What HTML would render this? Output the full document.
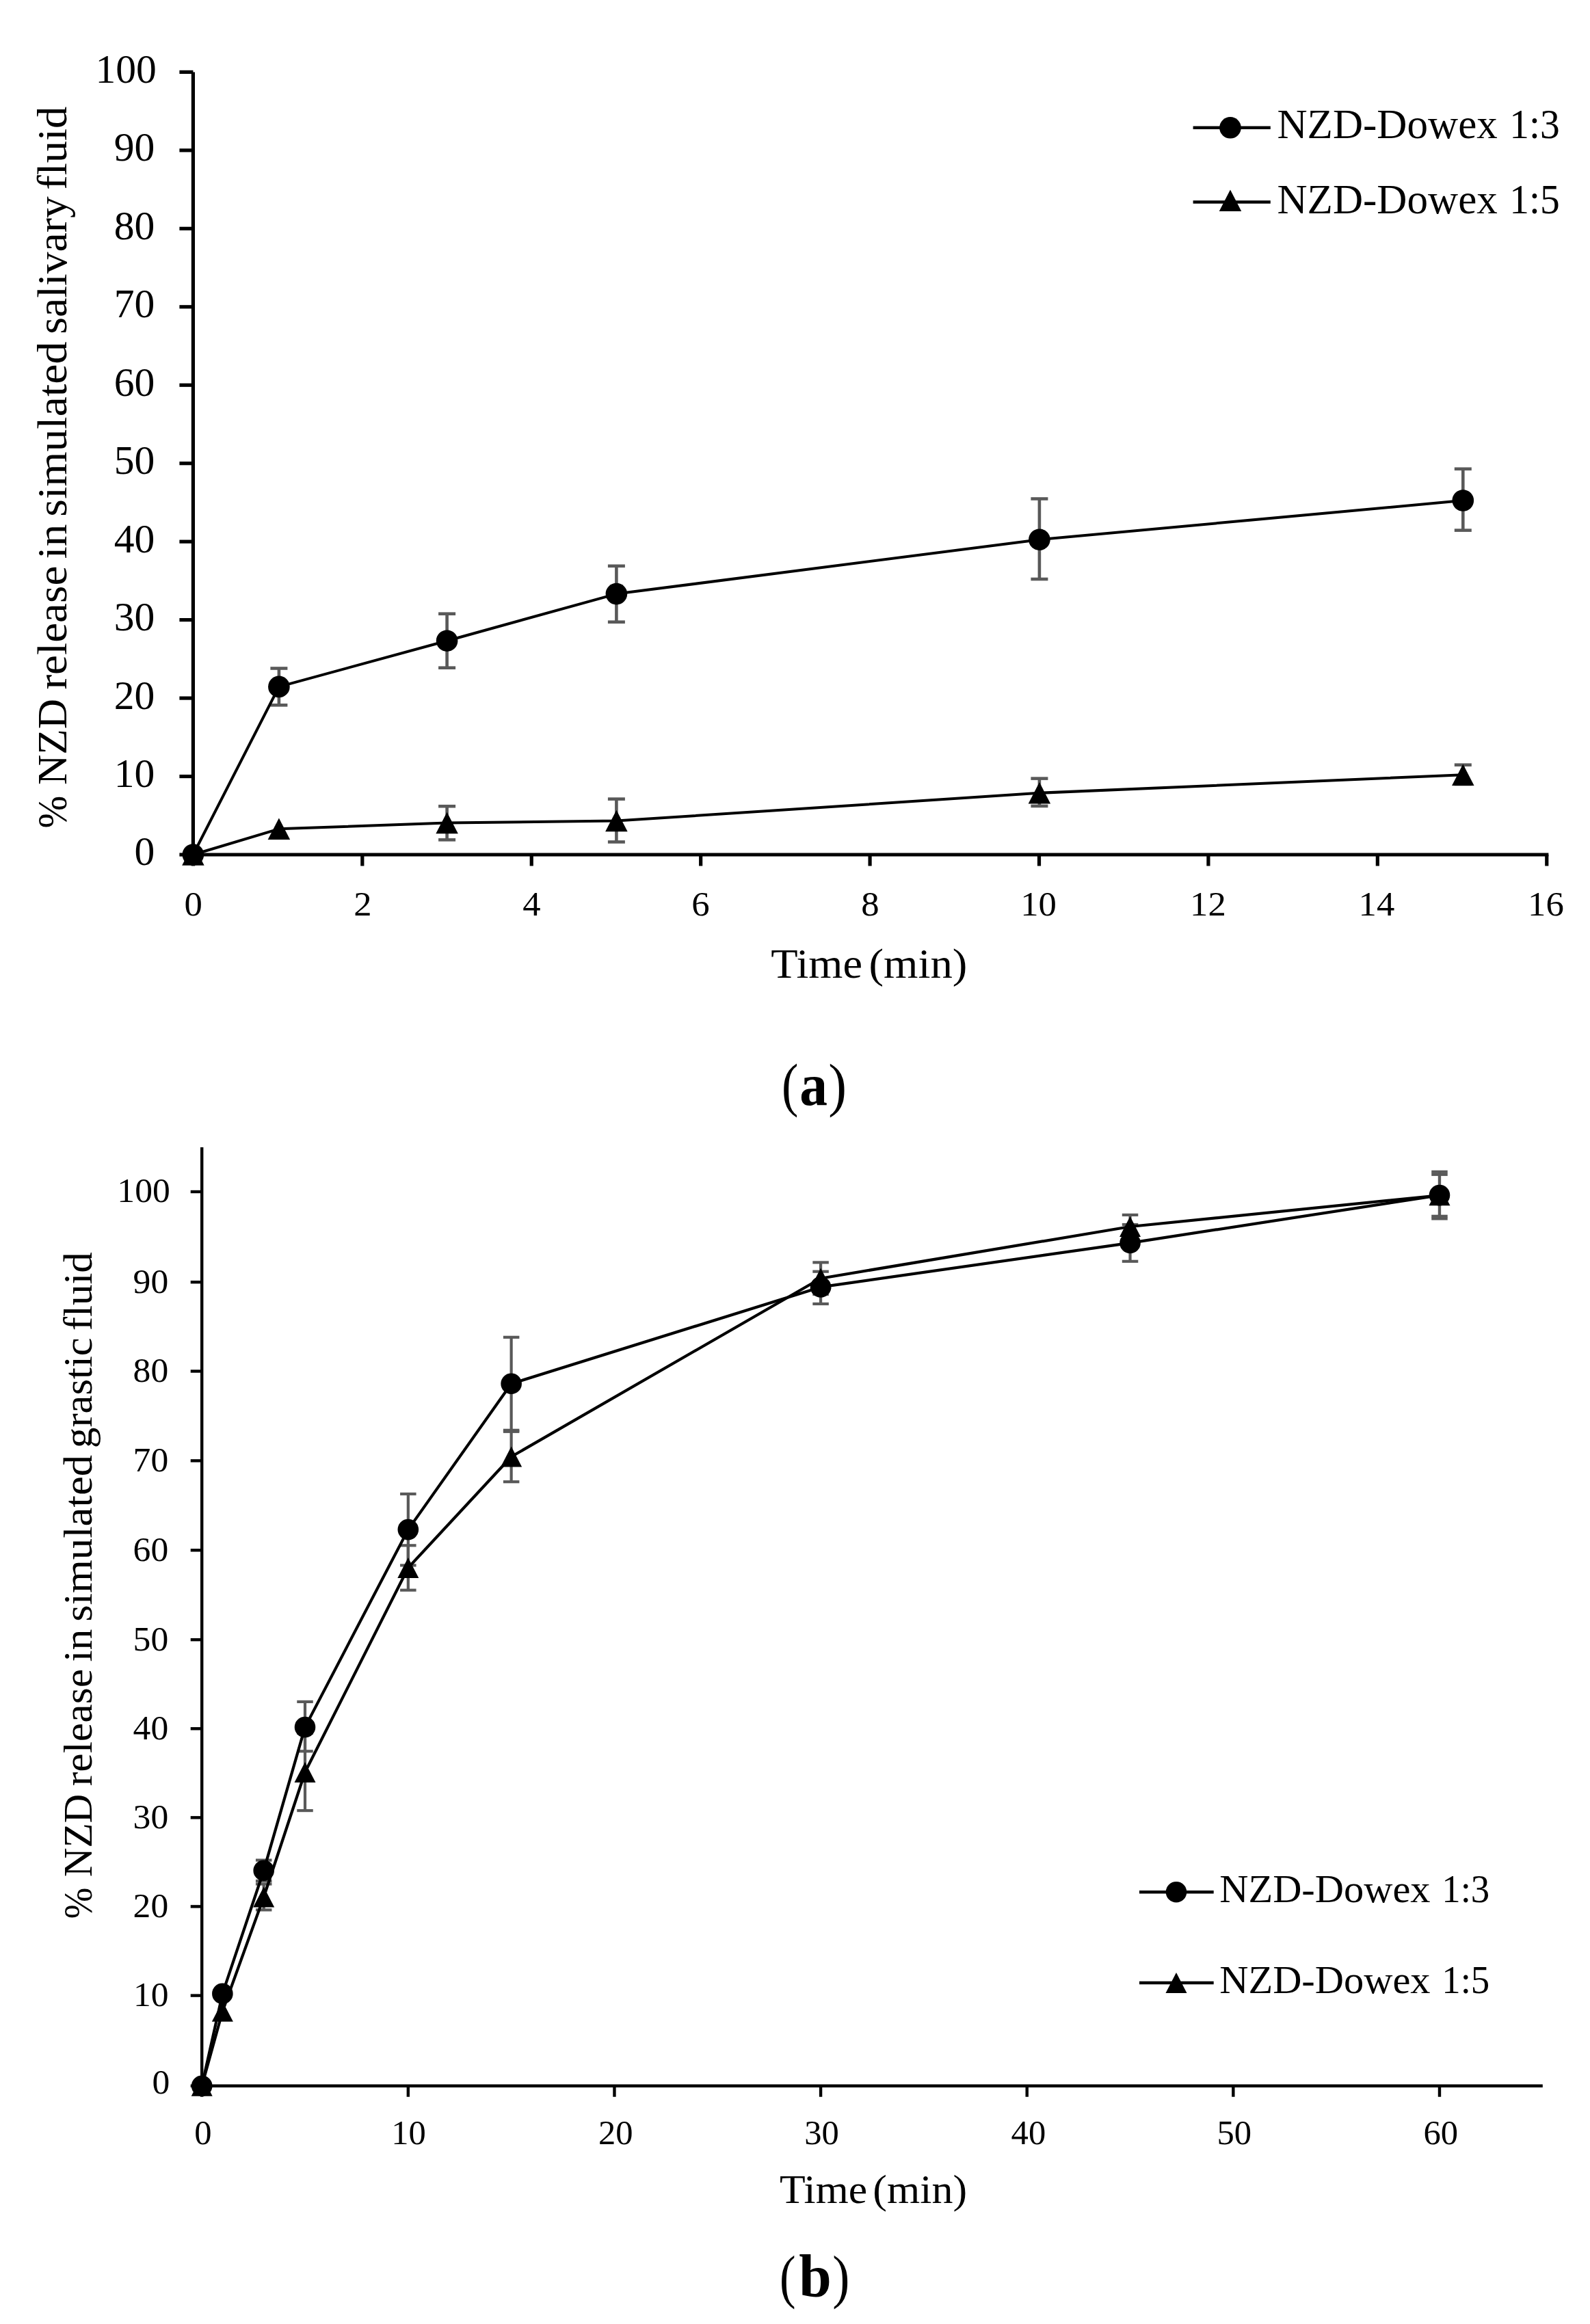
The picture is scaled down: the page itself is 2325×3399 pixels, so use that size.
<!DOCTYPE html>
<html lang="en"><head><meta charset="utf-8"><title>NZD release profiles</title>
<style>
html,body{margin:0;padding:0;background:#fff}
svg{display:block}
text{font-family:"Liberation Serif", serif;white-space:pre}
</style></head>
<body>
<svg width="2325" height="3399" viewBox="0 0 2325 3399">
<rect width="2325" height="3399" fill="#fff"/>
<line x1="282.40" y1="105.40" x2="282.40" y2="1252.60" stroke="#000" stroke-width="5.2" stroke-linecap="butt"/>
<line x1="279.80" y1="1250.00" x2="2264.36" y2="1250.00" stroke="#000" stroke-width="5.2" stroke-linecap="butt"/>
<line x1="262.40" y1="1250.00" x2="282.40" y2="1250.00" stroke="#000" stroke-width="5.2" stroke-linecap="butt"/>
<line x1="262.40" y1="1135.54" x2="282.40" y2="1135.54" stroke="#000" stroke-width="5.2" stroke-linecap="butt"/>
<line x1="262.40" y1="1021.08" x2="282.40" y2="1021.08" stroke="#000" stroke-width="5.2" stroke-linecap="butt"/>
<line x1="262.40" y1="906.62" x2="282.40" y2="906.62" stroke="#000" stroke-width="5.2" stroke-linecap="butt"/>
<line x1="262.40" y1="792.16" x2="282.40" y2="792.16" stroke="#000" stroke-width="5.2" stroke-linecap="butt"/>
<line x1="262.40" y1="677.70" x2="282.40" y2="677.70" stroke="#000" stroke-width="5.2" stroke-linecap="butt"/>
<line x1="262.40" y1="563.24" x2="282.40" y2="563.24" stroke="#000" stroke-width="5.2" stroke-linecap="butt"/>
<line x1="262.40" y1="448.78" x2="282.40" y2="448.78" stroke="#000" stroke-width="5.2" stroke-linecap="butt"/>
<line x1="262.40" y1="334.32" x2="282.40" y2="334.32" stroke="#000" stroke-width="5.2" stroke-linecap="butt"/>
<line x1="262.40" y1="219.86" x2="282.40" y2="219.86" stroke="#000" stroke-width="5.2" stroke-linecap="butt"/>
<line x1="262.40" y1="105.40" x2="282.40" y2="105.40" stroke="#000" stroke-width="5.2" stroke-linecap="butt"/>
<line x1="282.40" y1="1250.00" x2="282.40" y2="1266.50" stroke="#000" stroke-width="5.2" stroke-linecap="butt"/>
<line x1="529.82" y1="1250.00" x2="529.82" y2="1266.50" stroke="#000" stroke-width="5.2" stroke-linecap="butt"/>
<line x1="777.24" y1="1250.00" x2="777.24" y2="1266.50" stroke="#000" stroke-width="5.2" stroke-linecap="butt"/>
<line x1="1024.66" y1="1250.00" x2="1024.66" y2="1266.50" stroke="#000" stroke-width="5.2" stroke-linecap="butt"/>
<line x1="1272.08" y1="1250.00" x2="1272.08" y2="1266.50" stroke="#000" stroke-width="5.2" stroke-linecap="butt"/>
<line x1="1519.50" y1="1250.00" x2="1519.50" y2="1266.50" stroke="#000" stroke-width="5.2" stroke-linecap="butt"/>
<line x1="1766.92" y1="1250.00" x2="1766.92" y2="1266.50" stroke="#000" stroke-width="5.2" stroke-linecap="butt"/>
<line x1="2014.34" y1="1250.00" x2="2014.34" y2="1266.50" stroke="#000" stroke-width="5.2" stroke-linecap="butt"/>
<line x1="2261.76" y1="1250.00" x2="2261.76" y2="1266.50" stroke="#000" stroke-width="5.2" stroke-linecap="butt"/>
<line x1="407.90" y1="977.50" x2="407.90" y2="1031.30" stroke="#595959" stroke-width="4.6" stroke-linecap="butt"/>
<line x1="395.40" y1="977.50" x2="420.40" y2="977.50" stroke="#595959" stroke-width="4.6" stroke-linecap="butt"/>
<line x1="395.40" y1="1031.30" x2="420.40" y2="1031.30" stroke="#595959" stroke-width="4.6" stroke-linecap="butt"/>
<line x1="653.60" y1="897.70" x2="653.60" y2="976.70" stroke="#595959" stroke-width="4.6" stroke-linecap="butt"/>
<line x1="641.10" y1="897.70" x2="666.10" y2="897.70" stroke="#595959" stroke-width="4.6" stroke-linecap="butt"/>
<line x1="641.10" y1="976.70" x2="666.10" y2="976.70" stroke="#595959" stroke-width="4.6" stroke-linecap="butt"/>
<line x1="901.40" y1="827.80" x2="901.40" y2="909.70" stroke="#595959" stroke-width="4.6" stroke-linecap="butt"/>
<line x1="888.90" y1="827.80" x2="913.90" y2="827.80" stroke="#595959" stroke-width="4.6" stroke-linecap="butt"/>
<line x1="888.90" y1="909.70" x2="913.90" y2="909.70" stroke="#595959" stroke-width="4.6" stroke-linecap="butt"/>
<line x1="1519.90" y1="729.50" x2="1519.90" y2="847.00" stroke="#595959" stroke-width="4.6" stroke-linecap="butt"/>
<line x1="1507.40" y1="729.50" x2="1532.40" y2="729.50" stroke="#595959" stroke-width="4.6" stroke-linecap="butt"/>
<line x1="1507.40" y1="847.00" x2="1532.40" y2="847.00" stroke="#595959" stroke-width="4.6" stroke-linecap="butt"/>
<line x1="2139.30" y1="685.80" x2="2139.30" y2="775.60" stroke="#595959" stroke-width="4.6" stroke-linecap="butt"/>
<line x1="2126.80" y1="685.80" x2="2151.80" y2="685.80" stroke="#595959" stroke-width="4.6" stroke-linecap="butt"/>
<line x1="2126.80" y1="775.60" x2="2151.80" y2="775.60" stroke="#595959" stroke-width="4.6" stroke-linecap="butt"/>
<line x1="653.60" y1="1179.20" x2="653.60" y2="1228.30" stroke="#595959" stroke-width="4.6" stroke-linecap="butt"/>
<line x1="641.10" y1="1179.20" x2="666.10" y2="1179.20" stroke="#595959" stroke-width="4.6" stroke-linecap="butt"/>
<line x1="641.10" y1="1228.30" x2="666.10" y2="1228.30" stroke="#595959" stroke-width="4.6" stroke-linecap="butt"/>
<line x1="901.40" y1="1168.60" x2="901.40" y2="1231.40" stroke="#595959" stroke-width="4.6" stroke-linecap="butt"/>
<line x1="888.90" y1="1168.60" x2="913.90" y2="1168.60" stroke="#595959" stroke-width="4.6" stroke-linecap="butt"/>
<line x1="888.90" y1="1231.40" x2="913.90" y2="1231.40" stroke="#595959" stroke-width="4.6" stroke-linecap="butt"/>
<line x1="1519.90" y1="1138.60" x2="1519.90" y2="1178.90" stroke="#595959" stroke-width="4.6" stroke-linecap="butt"/>
<line x1="1507.40" y1="1138.60" x2="1532.40" y2="1138.60" stroke="#595959" stroke-width="4.6" stroke-linecap="butt"/>
<line x1="1507.40" y1="1178.90" x2="1532.40" y2="1178.90" stroke="#595959" stroke-width="4.6" stroke-linecap="butt"/>
<line x1="2139.30" y1="1118.70" x2="2139.30" y2="1147.00" stroke="#595959" stroke-width="4.6" stroke-linecap="butt"/>
<line x1="2126.80" y1="1118.70" x2="2151.80" y2="1118.70" stroke="#595959" stroke-width="4.6" stroke-linecap="butt"/>
<line x1="2126.80" y1="1147.00" x2="2151.80" y2="1147.00" stroke="#595959" stroke-width="4.6" stroke-linecap="butt"/>
<polyline fill="none" stroke="#000" stroke-width="4.0" stroke-linejoin="round" points="282.40,1250.00 407.90,1004.40 653.60,937.20 901.40,868.60 1519.90,789.20 2139.30,732.00"/>
<polyline fill="none" stroke="#000" stroke-width="4.0" stroke-linejoin="round" points="282.40,1250.00 407.90,1212.30 653.60,1203.60 901.40,1200.60 1519.90,1159.80 2139.30,1133.20"/>
<circle cx="282.40" cy="1250.00" r="15.8" fill="#000"/>
<circle cx="407.90" cy="1004.40" r="15.8" fill="#000"/>
<circle cx="653.60" cy="937.20" r="15.8" fill="#000"/>
<circle cx="901.40" cy="868.60" r="15.8" fill="#000"/>
<circle cx="1519.90" cy="789.20" r="15.8" fill="#000"/>
<circle cx="2139.30" cy="732.00" r="15.8" fill="#000"/>
<polygon fill="#000" points="282.40,1234.25 298.65,1265.75 266.15,1265.75"/>
<polygon fill="#000" points="407.90,1196.55 424.15,1228.05 391.65,1228.05"/>
<polygon fill="#000" points="653.60,1187.85 669.85,1219.35 637.35,1219.35"/>
<polygon fill="#000" points="901.40,1184.85 917.65,1216.35 885.15,1216.35"/>
<polygon fill="#000" points="1519.90,1144.05 1536.15,1175.55 1503.65,1175.55"/>
<polygon fill="#000" points="2139.30,1117.45 2155.55,1148.95 2123.05,1148.95"/>
<line x1="1744.60" y1="186.80" x2="1857.80" y2="186.80" stroke="#000" stroke-width="4.6" stroke-linecap="butt"/>
<circle cx="1799.00" cy="186.80" r="15.8" fill="#000"/>
<line x1="1744.60" y1="295.50" x2="1857.80" y2="295.50" stroke="#000" stroke-width="4.6" stroke-linecap="butt"/>
<polygon fill="#000" points="1799.00,277.45 1815.25,308.95 1782.75,308.95"/>
<line x1="295.20" y1="1677.90" x2="295.20" y2="3052.95" stroke="#000" stroke-width="4.4" stroke-linecap="butt"/>
<line x1="293.00" y1="3050.75" x2="2255.80" y2="3050.75" stroke="#000" stroke-width="4.4" stroke-linecap="butt"/>
<line x1="278.70" y1="3050.75" x2="295.20" y2="3050.75" stroke="#000" stroke-width="4.4" stroke-linecap="butt"/>
<line x1="278.70" y1="2918.60" x2="295.20" y2="2918.60" stroke="#000" stroke-width="4.4" stroke-linecap="butt"/>
<line x1="278.70" y1="2788.40" x2="295.20" y2="2788.40" stroke="#000" stroke-width="4.4" stroke-linecap="butt"/>
<line x1="278.70" y1="2658.33" x2="295.20" y2="2658.33" stroke="#000" stroke-width="4.4" stroke-linecap="butt"/>
<line x1="278.70" y1="2528.27" x2="295.20" y2="2528.27" stroke="#000" stroke-width="4.4" stroke-linecap="butt"/>
<line x1="278.70" y1="2398.20" x2="295.20" y2="2398.20" stroke="#000" stroke-width="4.4" stroke-linecap="butt"/>
<line x1="278.70" y1="2267.30" x2="295.20" y2="2267.30" stroke="#000" stroke-width="4.4" stroke-linecap="butt"/>
<line x1="278.70" y1="2136.40" x2="295.20" y2="2136.40" stroke="#000" stroke-width="4.4" stroke-linecap="butt"/>
<line x1="278.70" y1="2005.50" x2="295.20" y2="2005.50" stroke="#000" stroke-width="4.4" stroke-linecap="butt"/>
<line x1="278.70" y1="1875.20" x2="295.20" y2="1875.20" stroke="#000" stroke-width="4.4" stroke-linecap="butt"/>
<line x1="278.70" y1="1743.00" x2="295.20" y2="1743.00" stroke="#000" stroke-width="4.4" stroke-linecap="butt"/>
<line x1="295.20" y1="3050.75" x2="295.20" y2="3066.75" stroke="#000" stroke-width="4.4" stroke-linecap="butt"/>
<line x1="596.83" y1="3050.75" x2="596.83" y2="3066.75" stroke="#000" stroke-width="4.4" stroke-linecap="butt"/>
<line x1="898.46" y1="3050.75" x2="898.46" y2="3066.75" stroke="#000" stroke-width="4.4" stroke-linecap="butt"/>
<line x1="1200.09" y1="3050.75" x2="1200.09" y2="3066.75" stroke="#000" stroke-width="4.4" stroke-linecap="butt"/>
<line x1="1501.72" y1="3050.75" x2="1501.72" y2="3066.75" stroke="#000" stroke-width="4.4" stroke-linecap="butt"/>
<line x1="1803.35" y1="3050.75" x2="1803.35" y2="3066.75" stroke="#000" stroke-width="4.4" stroke-linecap="butt"/>
<line x1="2104.98" y1="3050.75" x2="2104.98" y2="3066.75" stroke="#000" stroke-width="4.4" stroke-linecap="butt"/>
<line x1="385.69" y1="2720.60" x2="385.69" y2="2751.00" stroke="#595959" stroke-width="4.2" stroke-linecap="butt"/>
<line x1="373.94" y1="2720.60" x2="397.44" y2="2720.60" stroke="#595959" stroke-width="4.2" stroke-linecap="butt"/>
<line x1="373.94" y1="2751.00" x2="397.44" y2="2751.00" stroke="#595959" stroke-width="4.2" stroke-linecap="butt"/>
<line x1="446.01" y1="2488.90" x2="446.01" y2="2561.30" stroke="#595959" stroke-width="4.2" stroke-linecap="butt"/>
<line x1="434.26" y1="2488.90" x2="457.76" y2="2488.90" stroke="#595959" stroke-width="4.2" stroke-linecap="butt"/>
<line x1="434.26" y1="2561.30" x2="457.76" y2="2561.30" stroke="#595959" stroke-width="4.2" stroke-linecap="butt"/>
<line x1="596.83" y1="2185.00" x2="596.83" y2="2289.40" stroke="#595959" stroke-width="4.2" stroke-linecap="butt"/>
<line x1="585.08" y1="2185.00" x2="608.58" y2="2185.00" stroke="#595959" stroke-width="4.2" stroke-linecap="butt"/>
<line x1="585.08" y1="2289.40" x2="608.58" y2="2289.40" stroke="#595959" stroke-width="4.2" stroke-linecap="butt"/>
<line x1="747.64" y1="1955.80" x2="747.64" y2="2091.80" stroke="#595959" stroke-width="4.2" stroke-linecap="butt"/>
<line x1="735.89" y1="1955.80" x2="759.39" y2="1955.80" stroke="#595959" stroke-width="4.2" stroke-linecap="butt"/>
<line x1="735.89" y1="2091.80" x2="759.39" y2="2091.80" stroke="#595959" stroke-width="4.2" stroke-linecap="butt"/>
<line x1="1200.09" y1="1859.70" x2="1200.09" y2="1907.00" stroke="#595959" stroke-width="4.2" stroke-linecap="butt"/>
<line x1="1188.34" y1="1859.70" x2="1211.84" y2="1859.70" stroke="#595959" stroke-width="4.2" stroke-linecap="butt"/>
<line x1="1188.34" y1="1907.00" x2="1211.84" y2="1907.00" stroke="#595959" stroke-width="4.2" stroke-linecap="butt"/>
<line x1="1652.54" y1="1791.00" x2="1652.54" y2="1844.80" stroke="#595959" stroke-width="4.2" stroke-linecap="butt"/>
<line x1="1640.79" y1="1791.00" x2="1664.29" y2="1791.00" stroke="#595959" stroke-width="4.2" stroke-linecap="butt"/>
<line x1="1640.79" y1="1844.80" x2="1664.29" y2="1844.80" stroke="#595959" stroke-width="4.2" stroke-linecap="butt"/>
<line x1="2104.98" y1="1713.80" x2="2104.98" y2="1782.40" stroke="#595959" stroke-width="4.2" stroke-linecap="butt"/>
<line x1="2093.23" y1="1713.80" x2="2116.73" y2="1713.80" stroke="#595959" stroke-width="4.2" stroke-linecap="butt"/>
<line x1="2093.23" y1="1782.40" x2="2116.73" y2="1782.40" stroke="#595959" stroke-width="4.2" stroke-linecap="butt"/>
<line x1="385.69" y1="2755.50" x2="385.69" y2="2793.40" stroke="#595959" stroke-width="4.2" stroke-linecap="butt"/>
<line x1="373.94" y1="2755.50" x2="397.44" y2="2755.50" stroke="#595959" stroke-width="4.2" stroke-linecap="butt"/>
<line x1="373.94" y1="2793.40" x2="397.44" y2="2793.40" stroke="#595959" stroke-width="4.2" stroke-linecap="butt"/>
<line x1="446.01" y1="2535.00" x2="446.01" y2="2648.10" stroke="#595959" stroke-width="4.2" stroke-linecap="butt"/>
<line x1="434.26" y1="2535.00" x2="457.76" y2="2535.00" stroke="#595959" stroke-width="4.2" stroke-linecap="butt"/>
<line x1="434.26" y1="2648.10" x2="457.76" y2="2648.10" stroke="#595959" stroke-width="4.2" stroke-linecap="butt"/>
<line x1="596.83" y1="2260.30" x2="596.83" y2="2325.70" stroke="#595959" stroke-width="4.2" stroke-linecap="butt"/>
<line x1="585.08" y1="2260.30" x2="608.58" y2="2260.30" stroke="#595959" stroke-width="4.2" stroke-linecap="butt"/>
<line x1="585.08" y1="2325.70" x2="608.58" y2="2325.70" stroke="#595959" stroke-width="4.2" stroke-linecap="butt"/>
<line x1="747.64" y1="2093.80" x2="747.64" y2="2167.20" stroke="#595959" stroke-width="4.2" stroke-linecap="butt"/>
<line x1="735.89" y1="2093.80" x2="759.39" y2="2093.80" stroke="#595959" stroke-width="4.2" stroke-linecap="butt"/>
<line x1="735.89" y1="2167.20" x2="759.39" y2="2167.20" stroke="#595959" stroke-width="4.2" stroke-linecap="butt"/>
<line x1="1200.09" y1="1846.40" x2="1200.09" y2="1893.00" stroke="#595959" stroke-width="4.2" stroke-linecap="butt"/>
<line x1="1188.34" y1="1846.40" x2="1211.84" y2="1846.40" stroke="#595959" stroke-width="4.2" stroke-linecap="butt"/>
<line x1="1188.34" y1="1893.00" x2="1211.84" y2="1893.00" stroke="#595959" stroke-width="4.2" stroke-linecap="butt"/>
<line x1="1652.54" y1="1776.90" x2="1652.54" y2="1811.00" stroke="#595959" stroke-width="4.2" stroke-linecap="butt"/>
<line x1="1640.79" y1="1776.90" x2="1664.29" y2="1776.90" stroke="#595959" stroke-width="4.2" stroke-linecap="butt"/>
<line x1="1640.79" y1="1811.00" x2="1664.29" y2="1811.00" stroke="#595959" stroke-width="4.2" stroke-linecap="butt"/>
<line x1="2104.98" y1="1717.80" x2="2104.98" y2="1778.80" stroke="#595959" stroke-width="4.2" stroke-linecap="butt"/>
<line x1="2093.23" y1="1717.80" x2="2116.73" y2="1717.80" stroke="#595959" stroke-width="4.2" stroke-linecap="butt"/>
<line x1="2093.23" y1="1778.80" x2="2116.73" y2="1778.80" stroke="#595959" stroke-width="4.2" stroke-linecap="butt"/>
<polyline fill="none" stroke="#000" stroke-width="4.2" stroke-linejoin="round" points="295.20,3050.75 325.36,2915.90 385.69,2735.70 446.01,2526.10 596.83,2237.10 747.64,2023.80 1200.09,1882.40 1652.54,1817.90 2104.98,1748.10"/>
<polyline fill="none" stroke="#000" stroke-width="4.2" stroke-linejoin="round" points="295.20,3050.75 325.36,2941.80 385.69,2774.50 446.01,2592.00 596.83,2293.00 747.64,2130.50 1200.09,1869.70 1652.54,1794.00 2104.98,1748.30"/>
<circle cx="295.20" cy="3050.75" r="15.3" fill="#000"/>
<circle cx="325.36" cy="2915.90" r="15.3" fill="#000"/>
<circle cx="385.69" cy="2735.70" r="15.3" fill="#000"/>
<circle cx="446.01" cy="2526.10" r="15.3" fill="#000"/>
<circle cx="596.83" cy="2237.10" r="15.3" fill="#000"/>
<circle cx="747.64" cy="2023.80" r="15.3" fill="#000"/>
<circle cx="1200.09" cy="1882.40" r="15.3" fill="#000"/>
<circle cx="1652.54" cy="1817.90" r="15.3" fill="#000"/>
<circle cx="2104.98" cy="1748.10" r="15.3" fill="#000"/>
<polygon fill="#000" points="295.20,3035.75 310.70,3065.75 279.70,3065.75"/>
<polygon fill="#000" points="325.36,2926.80 340.86,2956.80 309.86,2956.80"/>
<polygon fill="#000" points="385.69,2759.50 401.19,2789.50 370.19,2789.50"/>
<polygon fill="#000" points="446.01,2577.00 461.51,2607.00 430.51,2607.00"/>
<polygon fill="#000" points="596.83,2278.00 612.33,2308.00 581.33,2308.00"/>
<polygon fill="#000" points="747.64,2115.50 763.14,2145.50 732.14,2145.50"/>
<polygon fill="#000" points="1200.09,1854.70 1215.59,1884.70 1184.59,1884.70"/>
<polygon fill="#000" points="1652.54,1779.00 1668.04,1809.00 1637.04,1809.00"/>
<polygon fill="#000" points="2104.98,1733.30 2120.48,1763.30 2089.48,1763.30"/>
<line x1="1666.00" y1="2767.20" x2="1774.70" y2="2767.20" stroke="#000" stroke-width="4.6000000000000005" stroke-linecap="butt"/>
<circle cx="1720.00" cy="2767.20" r="15.3" fill="#000"/>
<line x1="1666.00" y1="2900.00" x2="1774.70" y2="2900.00" stroke="#000" stroke-width="4.6000000000000005" stroke-linecap="butt"/>
<polygon fill="#000" points="1720.00,2885.00 1735.50,2915.00 1704.50,2915.00"/>
<text transform="translate(1867.45,202.30) scale(1.0026,1)" font-size="60.95" fill="#000">NZD-Dowex</text>
<text transform="translate(2207.31,202.30) scale(0.9436,1)" font-size="60.95" fill="#000">1:3</text>
<text transform="translate(1867.45,311.70) scale(1.0026,1)" font-size="60.95" fill="#000">NZD-Dowex</text>
<text transform="translate(2207.31,311.70) scale(0.9436,1)" font-size="60.95" fill="#000">1:5</text>
<text transform="translate(196.55,1264.67) scale(1.0000,1)" font-size="59.64" fill="#000">0</text>
<text transform="translate(166.73,1151.01) scale(1.0000,1)" font-size="59.64" fill="#000">10</text>
<text transform="translate(166.73,1036.55) scale(1.0000,1)" font-size="59.64" fill="#000">20</text>
<text transform="translate(166.73,922.09) scale(1.0000,1)" font-size="59.64" fill="#000">30</text>
<text transform="translate(166.73,807.63) scale(1.0000,1)" font-size="59.64" fill="#000">40</text>
<text transform="translate(166.73,693.17) scale(1.0000,1)" font-size="59.64" fill="#000">50</text>
<text transform="translate(166.73,578.71) scale(1.0000,1)" font-size="59.64" fill="#000">60</text>
<text transform="translate(166.73,464.25) scale(1.0000,1)" font-size="59.64" fill="#000">70</text>
<text transform="translate(166.73,349.79) scale(1.0000,1)" font-size="59.64" fill="#000">80</text>
<text transform="translate(166.73,235.33) scale(1.0000,1)" font-size="59.64" fill="#000">90</text>
<text transform="translate(139.41,120.87) scale(1.0000,1)" font-size="59.64" fill="#000">100</text>
<text transform="translate(269.52,1339.20) scale(1.0300,1)" font-size="51.20" fill="#000">0</text>
<text transform="translate(517.35,1339.20) scale(1.0300,1)" font-size="51.20" fill="#000">2</text>
<text transform="translate(764.36,1339.20) scale(1.0300,1)" font-size="51.20" fill="#000">4</text>
<text transform="translate(1011.36,1339.20) scale(1.0300,1)" font-size="51.20" fill="#000">6</text>
<text transform="translate(1259.20,1339.20) scale(1.0300,1)" font-size="51.20" fill="#000">8</text>
<text transform="translate(1492.20,1339.20) scale(1.0300,1)" font-size="51.20" fill="#000">10</text>
<text transform="translate(1740.03,1339.20) scale(1.0300,1)" font-size="51.20" fill="#000">12</text>
<text transform="translate(1986.62,1339.20) scale(1.0300,1)" font-size="51.20" fill="#000">14</text>
<text transform="translate(2234.04,1339.20) scale(1.0300,1)" font-size="51.20" fill="#000">16</text>
<text transform="translate(1127.29,1429.80) scale(1.0679,1)" font-size="60.34" fill="#000">Time</text>
<text transform="translate(1270.47,1429.80) scale(1.0739,1)" font-size="60.34" fill="#000">(min)</text>
<text transform="translate(96.90,1211.59) rotate(-90) scale(0.9294,1)" font-size="61.56" fill="#000">%</text>
<text transform="translate(96.90,1147.96) rotate(-90) scale(0.9966,1)" font-size="61.56" fill="#000">NZD</text>
<text transform="translate(96.90,1008.62) rotate(-90) scale(1.0597,1)" font-size="61.56" fill="#000">release</text>
<text transform="translate(96.90,817.52) rotate(-90) scale(1.0634,1)" font-size="61.56" fill="#000">in</text>
<text transform="translate(96.90,755.76) rotate(-90) scale(1.0702,1)" font-size="61.56" fill="#000">simulated</text>
<text transform="translate(96.90,488.79) rotate(-90) scale(1.0345,1)" font-size="61.56" fill="#000">salivary</text>
<text transform="translate(96.90,277.81) rotate(-90) scale(1.0520,1)" font-size="61.56" fill="#000">fluid</text>
<text transform="translate(1143.11,1616.40) scale(0.8443,1)" font-size="86.76" fill="#000">(</text>
<text transform="translate(1169.25,1616.40) scale(0.9223,1)" font-size="88.36" font-weight="bold" fill="#000">a</text>
<text transform="translate(1211.28,1616.40) scale(0.9286,1)" font-size="86.76" fill="#000">)</text>
<text transform="translate(1783.29,2782.30) scale(1.0094,1)" font-size="57.90" fill="#000">NZD-Dowex</text>
<text transform="translate(2108.21,2782.30) scale(0.9474,1)" font-size="57.90" fill="#000">1:3</text>
<text transform="translate(1783.29,2915.10) scale(1.0094,1)" font-size="57.90" fill="#000">NZD-Dowex</text>
<text transform="translate(2108.21,2915.10) scale(0.9474,1)" font-size="57.90" fill="#000">1:5</text>
<text transform="translate(222.50,3062.16) scale(1.0200,1)" font-size="50.62" fill="#000">0</text>
<text transform="translate(194.98,2934.01) scale(1.0200,1)" font-size="50.62" fill="#000">10</text>
<text transform="translate(194.58,2803.81) scale(1.0200,1)" font-size="50.62" fill="#000">20</text>
<text transform="translate(194.58,2673.74) scale(1.0200,1)" font-size="50.62" fill="#000">30</text>
<text transform="translate(194.58,2543.68) scale(1.0200,1)" font-size="50.62" fill="#000">40</text>
<text transform="translate(194.58,2413.61) scale(1.0200,1)" font-size="50.62" fill="#000">50</text>
<text transform="translate(194.58,2282.71) scale(1.0200,1)" font-size="50.62" fill="#000">60</text>
<text transform="translate(194.58,2151.81) scale(1.0200,1)" font-size="50.62" fill="#000">70</text>
<text transform="translate(194.58,2020.91) scale(1.0200,1)" font-size="50.62" fill="#000">80</text>
<text transform="translate(194.58,1890.61) scale(1.0200,1)" font-size="50.62" fill="#000">90</text>
<text transform="translate(171.37,1758.41) scale(1.0200,1)" font-size="50.62" fill="#000">100</text>
<text transform="translate(284.35,3136.41) scale(1.0000,1)" font-size="50.62" fill="#000">0</text>
<text transform="translate(572.13,3136.41) scale(1.0000,1)" font-size="50.62" fill="#000">10</text>
<text transform="translate(874.95,3136.41) scale(1.0000,1)" font-size="50.62" fill="#000">20</text>
<text transform="translate(1176.19,3136.41) scale(1.0000,1)" font-size="50.62" fill="#000">30</text>
<text transform="translate(1478.61,3136.41) scale(1.0000,1)" font-size="50.62" fill="#000">40</text>
<text transform="translate(1779.45,3136.41) scale(1.0000,1)" font-size="50.62" fill="#000">50</text>
<text transform="translate(2081.47,3136.41) scale(1.0000,1)" font-size="50.62" fill="#000">60</text>
<text transform="translate(1139.94,3222.00) scale(1.0524,1)" font-size="58.67" fill="#000">Time</text>
<text transform="translate(1276.36,3222.00) scale(1.0579,1)" font-size="58.67" fill="#000">(min)</text>
<text transform="translate(134.00,2806.42) rotate(-90) scale(0.9214,1)" font-size="59.73" fill="#000">%</text>
<text transform="translate(134.00,2745.33) rotate(-90) scale(0.9912,1)" font-size="59.73" fill="#000">NZD</text>
<text transform="translate(134.00,2612.37) rotate(-90) scale(1.0358,1)" font-size="59.73" fill="#000">release</text>
<text transform="translate(134.00,2430.56) rotate(-90) scale(1.0323,1)" font-size="59.73" fill="#000">in</text>
<text transform="translate(134.00,2371.86) rotate(-90) scale(1.0508,1)" font-size="59.73" fill="#000">simulated</text>
<text transform="translate(134.00,2117.89) rotate(-90) scale(1.0145,1)" font-size="59.73" fill="#000">grastic</text>
<text transform="translate(134.00,1946.25) rotate(-90) scale(1.0198,1)" font-size="59.73" fill="#000">fluid</text>
<text transform="translate(1139.89,3358.50) scale(0.8156,1)" font-size="86.76" fill="#000">(</text>
<text transform="translate(1168.20,3358.50) scale(0.9699,1)" font-size="88.18" font-weight="bold" fill="#000">b</text>
<text transform="translate(1217.14,3358.50) scale(0.8722,1)" font-size="86.76" fill="#000">)</text>
</svg>
</body></html>
